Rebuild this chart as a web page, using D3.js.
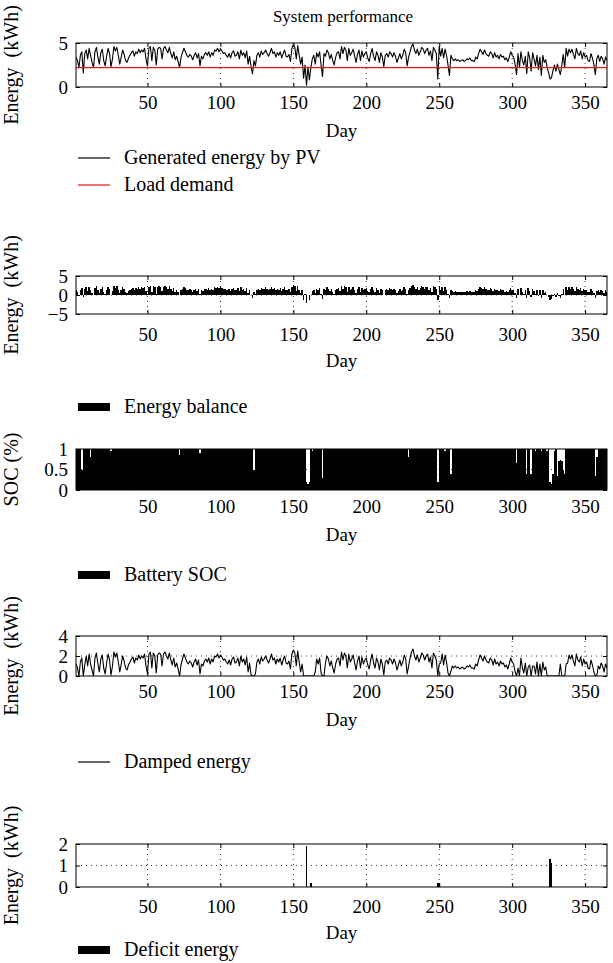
<!DOCTYPE html>
<html>
<head>
<meta charset="utf-8">
<script src="https://cdn.jsdelivr.net/npm/d3@7"></script>
<style>
  body { margin: 0; background: #fff; }
  svg { display: block; font-family: "Liberation Serif", "DejaVu Serif", serif; }
  text { white-space: pre; }
</style>
</head>
<body>
<div id="chart"></div>
<script>
// daily values (day 1..365)
var pvEnergy = [
  3.4,3.0,2.2,3.6,4.0,1.6,3.8,4.2,3.2,4.4,
  3.6,2.8,2.2,4.0,4.5,3.4,2.6,3.9,4.3,3.0,
  2.4,3.5,4.4,3.8,2.3,3.2,4.6,4.1,4.5,3.6,
  2.6,3.4,4.2,3.7,3.0,2.8,3.3,3.6,3.9,4.1,
  3.5,4.0,3.8,4.3,3.9,4.2,4.0,4.4,3.2,2.4,
  4.4,4.6,3.0,4.5,4.2,2.5,4.3,4.5,4.4,3.2,
  4.4,4.6,4.2,3.9,4.5,3.8,3.3,4.0,3.1,3.5,
  2.9,2.2,3.4,3.9,4.4,4.0,3.6,3.4,3.7,3.5,
  3.1,3.6,3.9,3.3,3.8,2.4,3.5,3.2,3.7,3.9,
  3.6,4.0,3.4,3.9,3.6,4.2,4.1,4.4,4.0,4.3,
  4.1,3.8,3.9,3.6,3.4,3.8,3.3,3.9,4.1,3.5,
  3.6,4.0,3.2,4.2,3.6,3.9,3.3,4.1,2.6,3.5,
  2.3,1.5,3.0,2.4,3.6,3.9,3.4,4.1,3.7,3.9,
  4.2,3.8,3.5,3.9,4.4,3.8,4.0,3.4,3.9,3.6,
  4.0,3.3,3.8,4.2,3.5,3.4,3.7,2.9,4.4,4.8,
  4.5,3.2,4.7,3.6,2.6,3.4,1.0,2.5,0.2,2.3,
  0.8,2.2,3.2,3.6,2.6,3.9,3.4,4.0,2.5,1.2,
  3.8,3.5,4.2,3.9,3.2,3.7,3.0,2.5,3.4,3.9,
  4.0,3.2,4.6,3.8,4.5,4.2,3.0,4.4,3.6,3.9,
  4.3,3.5,2.8,3.7,4.2,3.0,4.1,3.4,3.8,4.0,
  3.3,2.9,3.8,4.4,3.5,3.0,4.0,3.6,2.8,3.9,
  3.4,2.3,3.6,3.8,3.4,4.0,3.8,3.4,3.9,3.5,
  2.8,3.3,3.8,3.2,3.6,4.3,3.9,2.4,3.4,4.0,
  4.6,4.9,4.2,3.8,4.3,3.6,4.0,4.5,4.3,3.8,
  4.2,4.4,3.6,4.1,3.0,4.5,4.2,3.8,0.9,4.6,
  3.5,4.4,3.3,4.3,3.6,2.5,1.3,3.6,3.2,3.0,
  3.2,3.0,3.1,2.9,3.0,3.1,2.9,3.0,3.2,3.1,
  3.3,3.0,3.0,2.9,3.4,3.2,3.8,4.3,4.0,3.7,
  4.2,3.8,3.6,3.5,4.0,3.8,3.3,3.9,3.4,3.6,
  3.2,3.7,3.4,3.5,3.1,3.3,2.9,3.4,4.0,3.6,
  3.4,2.6,1.4,3.8,2.2,4.0,3.0,2.5,3.5,1.5,
  4.0,3.3,1.8,3.9,3.2,2.4,3.6,2.0,3.4,1.3,
  3.6,2.8,3.1,2.2,1.6,0.9,1.1,1.9,2.5,1.8,
  2.6,2.0,1.4,2.4,3.7,2.2,4.4,3.5,4.3,3.9,
  4.3,3.7,3.2,4.4,3.8,3.6,4.1,3.2,3.9,3.4,
  3.6,3.0,2.9,3.8,3.3,2.6,1.4,3.2,3.6,2.9,
  3.5,3.2,2.6,3.4,3.0
];
var loadDemand = 2.2;

var energyBalance = [
  1.2,0.8,0.0,1.4,1.8,-0.6,1.6,2.0,1.0,2.2,
  1.4,0.6,0.0,1.8,2.3,1.2,0.4,1.7,2.1,0.8,
  0.2,1.3,2.2,1.6,0.1,1.0,2.4,1.9,2.3,1.4,
  0.4,1.2,2.0,1.5,0.8,0.6,1.1,1.4,1.7,1.9,
  1.3,1.8,1.6,2.1,1.7,2.0,1.8,2.2,1.0,0.2,
  2.2,2.4,0.8,2.3,2.0,0.3,2.1,2.3,2.2,1.0,
  2.2,2.4,2.0,1.7,2.3,1.6,1.1,1.8,0.9,1.3,
  0.7,0.0,1.2,1.7,2.2,1.8,1.4,1.2,1.5,1.3,
  0.9,1.4,1.7,1.1,1.6,0.2,1.3,1.0,1.5,1.7,
  1.4,1.8,1.2,1.7,1.4,2.0,1.9,2.2,1.8,2.1,
  1.9,1.6,1.7,1.4,1.2,1.6,1.1,1.7,1.9,1.3,
  1.4,1.8,1.0,2.0,1.4,1.7,1.1,1.9,0.4,1.3,
  0.1,-0.7,0.8,0.2,1.4,1.7,1.2,1.9,1.5,1.7,
  2.0,1.6,1.3,1.7,2.2,1.6,1.8,1.2,1.7,1.4,
  1.8,1.1,1.6,2.0,1.3,1.2,1.5,0.7,2.2,2.6,
  2.3,1.0,2.5,1.4,0.4,1.2,-1.2,0.3,-2.0,0.1,
  -1.4,0.0,1.0,1.4,0.4,1.7,1.2,1.8,0.3,-1.0,
  1.6,1.3,2.0,1.7,1.0,1.5,0.8,0.3,1.2,1.7,
  1.8,1.0,2.4,1.6,2.3,2.0,0.8,2.2,1.4,1.7,
  2.1,1.3,0.6,1.5,2.0,0.8,1.9,1.2,1.6,1.8,
  1.1,0.7,1.6,2.2,1.3,0.8,1.8,1.4,0.6,1.7,
  1.2,0.1,1.4,1.6,1.2,1.8,1.6,1.2,1.7,1.3,
  0.6,1.1,1.6,1.0,1.4,2.1,1.7,0.2,1.2,1.8,
  2.4,2.7,2.0,1.6,2.1,1.4,1.8,2.3,2.1,1.6,
  2.0,2.2,1.4,1.9,0.8,2.3,2.0,1.6,-1.3,2.4,
  1.3,2.2,1.1,2.1,1.4,0.3,-0.9,1.4,1.0,0.8,
  1.0,0.8,0.9,0.7,0.8,0.9,0.7,0.8,1.0,0.9,
  1.1,0.8,0.8,0.7,1.2,1.0,1.6,2.1,1.8,1.5,
  2.0,1.6,1.4,1.3,1.8,1.6,1.1,1.7,1.2,1.4,
  1.0,1.5,1.2,1.3,0.9,1.1,0.7,1.2,1.8,1.4,
  1.2,0.4,-0.8,1.6,0.0,1.8,0.8,0.3,1.3,-0.7,
  1.8,1.1,-0.4,1.7,1.0,0.2,1.4,-0.2,1.2,-0.9,
  1.4,0.6,0.9,0.0,-0.6,-1.3,-1.1,-0.3,0.3,-0.4,
  0.4,-0.2,-0.8,0.2,1.5,0.0,2.2,1.3,2.1,1.7,
  2.1,1.5,1.0,2.2,1.6,1.4,1.9,1.0,1.7,1.2,
  1.4,0.8,0.7,1.6,1.1,0.4,-0.8,1.0,1.4,0.7,
  1.3,1.0,0.4,1.2,0.8
];

var batterySoc = [
  1,1,1,1,0.5,1,1,1,1,1,
  0.8,1,1,1,1,1,1,1,1,1,
  1,1,1,1,0.95,1,1,1,1,1,
  1,1,1,1,1,1,1,1,1,1,
  1,1,1,1,1,1,1,1,1,1,
  1,1,1,1,1,1,1,1,1,1,
  1,1,1,1,1,1,1,1,1,1,
  1,0.85,1,1,1,1,1,1,1,1,
  1,1,1,1,1,0.9,1,1,1,1,
  1,1,1,1,1,1,1,1,1,1,
  1,1,1,1,1,1,1,1,1,1,
  1,1,1,1,1,1,1,1,1,1,
  1,1,0.5,1,1,1,1,1,1,1,
  1,1,1,1,1,1,1,1,1,1,
  1,1,1,1,1,1,1,1,1,1,
  1,1,1,1,1,1,1,1,0.2,0.15,
  0.2,1,0.95,1,1,1,1,1,1,0.3,
  1,1,1,1,1,1,1,1,1,1,
  1,1,1,1,1,1,1,1,1,1,
  1,1,1,1,1,1,1,1,1,1,
  1,1,1,1,1,1,1,1,1,1,
  1,1,1,1,1,1,1,1,1,1,
  1,1,1,1,1,1,1,1,0.8,1,
  1,1,1,1,1,1,1,1,1,1,
  1,1,1,1,1,1,1,1,0.2,1,
  1,1,1,0.95,1,1,1,0.4,1,1,
  1,1,1,1,1,1,1,1,1,1,
  1,1,1,1,1,1,1,1,1,1,
  1,1,1,1,1,1,1,1,1,1,
  1,1,1,1,1,1,1,1,1,1,
  1,1,0.65,1,1,1,1,1,1,0.4,
  1,1,0.4,1,1,0.95,1,1,1,0.95,
  1,1,1,0.95,1,0.2,0.15,0.4,0.95,1,
  0.35,0.7,0.72,0.7,0.5,0.4,1,1,1,1,
  1,1,1,1,1,1,1,1,1,1,
  1,1,1,1,1,1,0.35,0.8,1,1,
  1,1,1,1,1
];

var dampedEnergy = [
  1.2,0.8,0.0,1.4,1.8,0.0,1.1,2.0,1.0,2.2,
  1.2,0.6,0.0,1.8,2.3,1.2,0.4,1.7,2.1,0.8,
  0.2,1.3,2.2,1.6,0.1,1.0,2.4,1.9,2.3,1.4,
  0.4,1.2,2.0,1.5,0.8,0.6,1.1,1.4,1.7,1.9,
  1.3,1.8,1.6,2.1,1.7,2.0,1.8,2.2,1.0,0.2,
  2.2,2.4,0.8,2.3,2.0,0.3,2.1,2.3,2.2,1.0,
  2.2,2.4,2.0,1.7,2.3,1.6,1.1,1.8,0.9,1.3,
  0.7,0.0,1.1,1.7,2.2,1.8,1.4,1.2,1.5,1.3,
  0.9,1.4,1.7,1.1,1.6,0.2,1.2,1.0,1.5,1.7,
  1.4,1.8,1.2,1.7,1.4,2.0,1.9,2.2,1.8,2.1,
  1.9,1.6,1.7,1.4,1.2,1.6,1.1,1.7,1.9,1.3,
  1.4,1.8,1.0,2.0,1.4,1.7,1.1,1.9,0.4,1.3,
  0.1,0.0,0.0,0.2,1.4,1.7,1.2,1.9,1.5,1.7,
  2.0,1.6,1.3,1.7,2.2,1.6,1.8,1.2,1.7,1.4,
  1.8,1.1,1.6,2.0,1.3,1.2,1.5,0.7,2.2,2.6,
  2.3,1.0,2.5,1.4,0.4,1.2,0.0,0.0,0.0,0.0,
  0.0,0.0,0.0,0.0,0.4,1.7,1.2,1.8,0.3,0.0,
  0.0,1.3,2.0,1.7,1.0,1.5,0.8,0.3,1.2,1.7,
  1.8,1.0,2.4,1.6,2.3,2.0,0.8,2.2,1.4,1.7,
  2.1,1.3,0.6,1.5,2.0,0.8,1.9,1.2,1.6,1.8,
  1.1,0.7,1.6,2.2,1.3,0.8,1.8,1.4,0.6,1.7,
  1.2,0.1,1.4,1.6,1.2,1.8,1.6,1.2,1.7,1.3,
  0.6,1.1,1.6,1.0,1.4,2.1,1.7,0.2,1.0,1.8,
  2.4,2.7,2.0,1.6,2.1,1.4,1.8,2.3,2.1,1.6,
  2.0,2.2,1.4,1.9,0.8,2.3,2.0,1.6,0.0,1.2,
  1.3,2.2,1.1,2.1,1.4,0.3,0.0,0.5,1.0,0.8,
  1.0,0.8,0.9,0.7,0.8,0.9,0.7,0.8,1.0,0.9,
  1.1,0.8,0.8,0.7,1.2,1.0,1.6,2.1,1.8,1.5,
  2.0,1.6,1.4,1.3,1.8,1.6,1.1,1.7,1.2,1.4,
  1.0,1.5,1.2,1.3,0.9,1.1,0.7,1.2,1.8,1.4,
  1.2,0.4,0.0,0.8,0.0,1.8,0.8,0.3,1.3,0.0,
  0.9,1.1,0.0,1.0,1.0,0.2,1.4,0.0,1.2,0.0,
  1.4,0.6,0.9,0.0,0.0,0.0,0.0,0.0,0.0,0.0,
  0.0,0.0,1.2,0.0,0.0,0.0,1.2,1.3,2.1,1.7,
  2.1,1.5,1.0,2.2,1.6,1.4,1.9,1.0,1.7,1.2,
  1.4,0.8,0.7,1.6,1.1,0.4,0.0,0.0,1.0,0.7,
  1.3,1.0,0.4,1.2,0.8
];

// 20 days per row
var deficitEnergy = [
  0,0,0,0,0,0,0,0,0,0, 0,0,0,0,0,0,0,0,0,0,
  0,0,0,0,0,0,0,0,0,0, 0,0,0,0,0,0,0,0,0,0,
  0,0,0,0,0,0,0,0,0,0, 0,0,0,0,0,0,0,0,0,0,
  0,0,0,0,0,0,0,0,0,0, 0,0,0,0,0,0,0,0,0,0,
  0,0,0,0,0,0,0,0,0,0, 0,0,0,0,0,0,0,0,0,0,
  0,0,0,0,0,0,0,0,0,0, 0,0,0,0,0,0,0,0,0,0,
  0,0,0,0,0,0,0,0,0,0, 0,0,0,0,0,0,0,0,0,0,
  0,0,0,0,0,0,0,0,0,0, 0,0,0,0,0,0,0,0,1.9,0,
  0,0.2,0,0,0,0,0,0,0,0, 0,0,0,0,0,0,0,0,0,0,
  0,0,0,0,0,0,0,0,0,0, 0,0,0,0,0,0,0,0,0,0,
  0,0,0,0,0,0,0,0,0,0, 0,0,0,0,0,0,0,0,0,0,
  0,0,0,0,0,0,0,0,0,0, 0,0,0,0,0,0,0,0,0,0,
  0,0,0,0,0,0,0,0,0.2,0.2, 0,0,0,0,0,0,0,0,0,0,
  0,0,0,0,0,0,0,0,0,0, 0,0,0,0,0,0,0,0,0,0,
  0,0,0,0,0,0,0,0,0,0, 0,0,0,0,0,0,0,0,0,0,
  0,0,0,0,0,0,0,0,0,0, 0,0,0,0,0,0,0,0,0,0,
  0,0,0,0,0,1.3,1.1,0,0,0, 0,0,0,0,0,0,0,0,0,0,
  0,0,0,0,0,0,0,0,0,0, 0,0,0,0,0,0,0,0,0,0,
  0,0,0,0,0
];

var xTickValues = [50, 100, 150, 200, 250, 300, 350];
var days = pvEnergy.map(function(v, i) { return i + 1; });

var width = 613, height = 963;
var plotLeft = 76, plotRight = 607;
var fontSize = 19;
var legendFont = 20;

var svg = d3.select("#chart").append("svg")
  .attr("width", width)
  .attr("height", height);

var x = d3.scaleLinear().domain([1, 365]).range([plotLeft, plotRight]);

svg.append("text")
  .attr("x", 343).attr("y", 22)
  .attr("text-anchor", "middle")
  .attr("font-size", 17)
  .text("System performance");

// tickPad / dayGap: distance of tick labels and "Day" below each box
var panels = [
  {id: "p1", top: 43, bottom: 87, domain: [0, 5], ticks: [0, 5], label: "Energy  (kWh)",
   tickPad: 9, dayGap: 50, legendY: [158, 185]},
  {id: "p2", top: 276, bottom: 314, domain: [-5, 5], ticks: [-5, 0, 5], label: "Energy  (kWh)",
   tickPad: 14, dayGap: 53, legendY: [407]},
  {id: "p3", top: 449, bottom: 490, domain: [0, 1], ticks: [0, 0.5, 1], label: "SOC (%)",
   tickPad: 10, dayGap: 51, legendY: [575]},
  {id: "p4", top: 636, bottom: 676, domain: [0, 4], ticks: [0, 2, 4], label: "Energy  (kWh)",
   tickPad: 9, dayGap: 50, legendY: [762]},
  {id: "p5", top: 844, bottom: 887, domain: [0, 2], ticks: [0, 1, 2], label: "Energy  (kWh)",
   tickPad: 13, dayGap: 52, legendY: [950]}
];

function styleAxis(sel) {
  sel.select(".domain").remove();
  sel.selectAll(".tick line").attr("stroke", "#000").attr("stroke-width", 1);
  sel.selectAll(".tick text").attr("font-size", fontSize).attr("fill", "#000")
    .attr("font-family", "Liberation Serif, DejaVu Serif, serif");
}

function drawPanel(p) {
  var y = d3.scaleLinear().domain(p.domain).range([p.bottom, p.top]);
  var g = svg.append("g").attr("class", "panel " + p.id);

  g.append("clipPath").attr("id", "clip-" + p.id)
    .append("rect")
      .attr("x", plotLeft).attr("y", p.top)
      .attr("width", plotRight - plotLeft).attr("height", p.bottom - p.top);

  // dotted grid
  var grid = g.append("g").attr("class", "grid")
    .attr("stroke", "#000").attr("stroke-width", 0.8)
    .attr("stroke-dasharray", "1,4");
  grid.selectAll("line.vx").data(xTickValues).enter().append("line")
    .attr("x1", function(d) { return x(d); }).attr("x2", function(d) { return x(d); })
    .attr("y1", p.top).attr("y2", p.bottom);
  grid.selectAll("line.hy").data(p.ticks.filter(function(t) {
      return t !== p.domain[0] && t !== p.domain[1];
    })).enter().append("line")
    .attr("x1", plotLeft).attr("x2", plotRight)
    .attr("y1", function(d) { return y(d); }).attr("y2", function(d) { return y(d); });

  p.y = y;
  p.plot = g.append("g").attr("clip-path", "url(#clip-" + p.id + ")");

  // ticks inward on all four sides
  g.append("g")
    .attr("transform", "translate(0," + p.bottom + ")")
    .call(d3.axisBottom(x).tickValues(xTickValues).tickSize(-4).tickPadding(p.tickPad))
    .call(styleAxis);
  g.append("g")
    .attr("transform", "translate(0," + p.top + ")")
    .call(d3.axisTop(x).tickValues(xTickValues).tickSize(-4).tickFormat(""))
    .call(styleAxis);
  g.append("g")
    .attr("transform", "translate(" + plotLeft + ",0)")
    .call(d3.axisLeft(y).tickValues(p.ticks).tickSize(-4).tickPadding(8)
      .tickFormat(function(d) { return d < 0 ? "\u2212" + Math.abs(d) : d; }))
    .call(styleAxis);
  g.append("g")
    .attr("transform", "translate(" + plotRight + ",0)")
    .call(d3.axisRight(y).tickValues(p.ticks).tickSize(-4).tickFormat(""))
    .call(styleAxis);

  g.append("rect")
    .attr("x", plotLeft).attr("y", p.top)
    .attr("width", plotRight - plotLeft).attr("height", p.bottom - p.top)
    .attr("fill", "none").attr("stroke", "#000").attr("stroke-width", 1);

  g.append("text")
    .attr("transform", "translate(18," + ((p.top + p.bottom) / 2) + ") rotate(-90)")
    .attr("text-anchor", "middle")
    .attr("font-size", 20)
    .text(p.label);

  g.append("text")
    .attr("x", (plotLeft + plotRight) / 2).attr("y", p.bottom + p.dayGap)
    .attr("text-anchor", "middle")
    .attr("font-size", fontSize)
    .text("Day");
}

panels.forEach(drawPanel);

function lineLegend(yPos, color, text) {
  svg.append("line")
    .attr("x1", 78).attr("x2", 110).attr("y1", yPos).attr("y2", yPos)
    .attr("stroke", color).attr("stroke-width", 1.2);
  svg.append("text").attr("x", 124).attr("y", yPos + 6)
    .attr("font-size", legendFont).text(text);
}
function barLegend(yPos, text) {
  svg.append("rect")
    .attr("x", 78).attr("y", yPos - 4).attr("width", 32).attr("height", 8)
    .attr("fill", "#000");
  svg.append("text").attr("x", 124).attr("y", yPos + 6)
    .attr("font-size", legendFont).text(text);
}

// bars snapped to whole pixels so neighbouring days join without seams
function barRects(p, values) {
  p.plot.selectAll("rect.bar").data(values).enter().append("rect")
    .attr("class", "bar")
    .attr("shape-rendering", "crispEdges")
    .attr("x", function(d, i) { return Math.round(x(days[i] - 0.5)); })
    .attr("width", function(d, i) {
      return Math.max(1, Math.round(x(days[i] + 0.5)) - Math.round(x(days[i] - 0.5)));
    })
    .attr("y", function(d) { return p.y(Math.max(0, d)); })
    .attr("height", function(d) { return Math.abs(p.y(d) - p.y(0)); })
    .attr("fill", "#000");
}

// panel 1: PV generation and load
var p1 = panels[0];
p1.plot.append("path")
  .datum(pvEnergy)
  .attr("fill", "none").attr("stroke", "#000").attr("stroke-width", 1.1)
  .attr("stroke-linejoin", "round")
  .attr("d", d3.line().x(function(d, i) { return x(days[i]); }).y(function(d) { return p1.y(d); }));
p1.plot.append("line")
  .attr("x1", x(1)).attr("x2", x(365))
  .attr("y1", p1.y(loadDemand)).attr("y2", p1.y(loadDemand))
  .attr("stroke", "#e8141b").attr("stroke-width", 1.3);
lineLegend(p1.legendY[0], "#000", "Generated energy by PV");
lineLegend(p1.legendY[1], "#e8141b", "Load demand");

// panel 2: energy balance
barRects(panels[1], energyBalance);
barLegend(panels[1].legendY[0], "Energy balance");

// panel 3: battery state of charge
barRects(panels[2], batterySoc);
barLegend(panels[2].legendY[0], "Battery SOC");

// panel 4: damped energy
var p4 = panels[3];
p4.plot.append("path")
  .datum(dampedEnergy)
  .attr("fill", "none").attr("stroke", "#000").attr("stroke-width", 1.1)
  .attr("stroke-linejoin", "round")
  .attr("d", d3.line().x(function(d, i) { return x(days[i]); }).y(function(d) { return p4.y(d); }));
lineLegend(p4.legendY[0], "#000", "Damped energy");

// panel 5: deficit
barRects(panels[4], deficitEnergy);
barLegend(panels[4].legendY[0], "Deficit energy");
</script>
</body>
</html>
